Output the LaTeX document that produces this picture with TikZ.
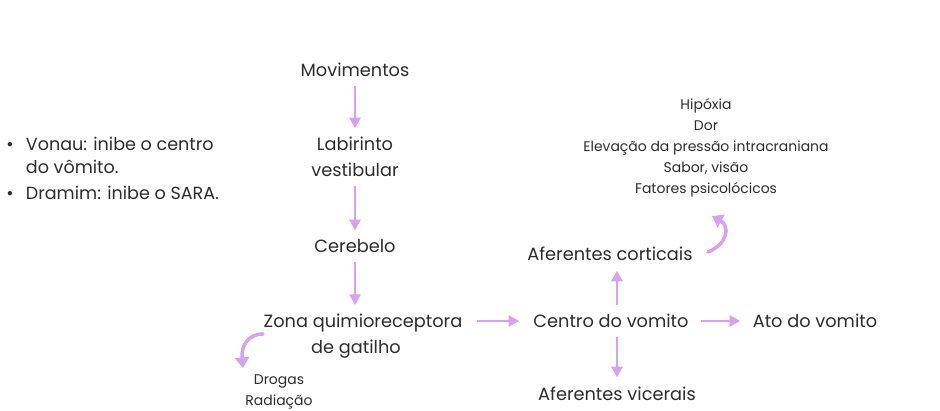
\documentclass[tikz,border=0pt]{standalone}
\usepackage{fontspec}
\setmainfont{Poppins}
\usetikzlibrary{arrows.meta}

\definecolor{txtgray}{RGB}{45,45,45}
\definecolor{arrowlilac}{RGB}{214,162,240}

\begin{document}
\begin{tikzpicture}[x=0.02cm,y=-0.02cm]

\tikzset{
    steptext/.style={text=txtgray, font=\fontsize{10.1}{14.6}\selectfont, align=center, inner sep=0pt},
    smalltext/.style={text=txtgray, font=\fontsize{7.95}{11.9}\selectfont, align=center, inner sep=0pt},
    flow/.style={draw=arrowlilac, line width=0.9pt, shorten <=5pt, shorten >=5pt, -{Triangle[length=6pt,width=6.5pt]}},
    swirl/.style={draw=arrowlilac, line width=2pt, line cap=round, -{Triangle[length=6pt,width=8pt]}}
}
\useasboundingbox (0,0) rectangle (940,411);

% left notes
\node[text=txtgray, font=\fontsize{10}{13.2}\selectfont, anchor=north west, inner sep=0pt] (notes) at (6,134) {%
    \begin{tabular}{@{}l@{\hspace{7pt}}l@{}}
    \textbullet & Vonau: inibe o centro\\
                & do vômito.\\[1.5pt]
    \textbullet & Dramim: inibe o SARA.
    \end{tabular}};

% vertical chain
\node[steptext] (mov) at (355,70) {Movimentos};
\node[steptext] (lab) at (355,157) {Labirinto\\vestibular};
\node[steptext] (cer) at (355,246) {Cerebelo};
\node[steptext] (zona) at (363,336) {Zona quimioreceptora\\de gatilho\hspace*{8pt}};
\node[smalltext] (drogas) at (279,392) {Drogas\\Radiação};

% centre and branches
\node[steptext] (centro) at (611,321) {Centro do vomito};
\node[steptext] (ato) at (815,321) {Ato do vomito};
\node[steptext] (cort) at (610,254) {Aferentes corticais};
\node[steptext] (vic) at (617,394) {Aferentes vicerais};
\node[smalltext] (causas) at (706,148) {Hipóxia\\Dor\\Elevação da pressão intracraniana\\Sabor, visão\\Fatores psicolócicos};

\draw[flow] (mov) -- (lab);
\draw[flow] (lab) -- (cer);
\draw[flow] (cer) -- (cer |- zona.north);
\draw[flow, shorten <=8pt, shorten >=8pt] (zona.east |- centro) -- (centro);
\draw[flow, shorten <=7pt, shorten >=7pt] (centro) -- (ato);
\draw[flow] (617,314) coordinate (cup) -- (617,262) coordinate (cupend);
\draw[flow] (617,328) coordinate (cdown) -- (617,386) coordinate (cdownend);

% curly arrows
\coordinate (cortTail) at (708,252);
\coordinate (cortTip) at (712,216);
\draw[swirl] (cortTail) .. controls (728,244) and (730,226) .. (cortTip);
\coordinate (zonaTail) at (263,334);
\coordinate (zonaTip) at (243,368);
\draw[swirl] (zonaTail) .. controls (248,334) and (241,346) .. (zonaTip);

\end{tikzpicture}
\end{document}
